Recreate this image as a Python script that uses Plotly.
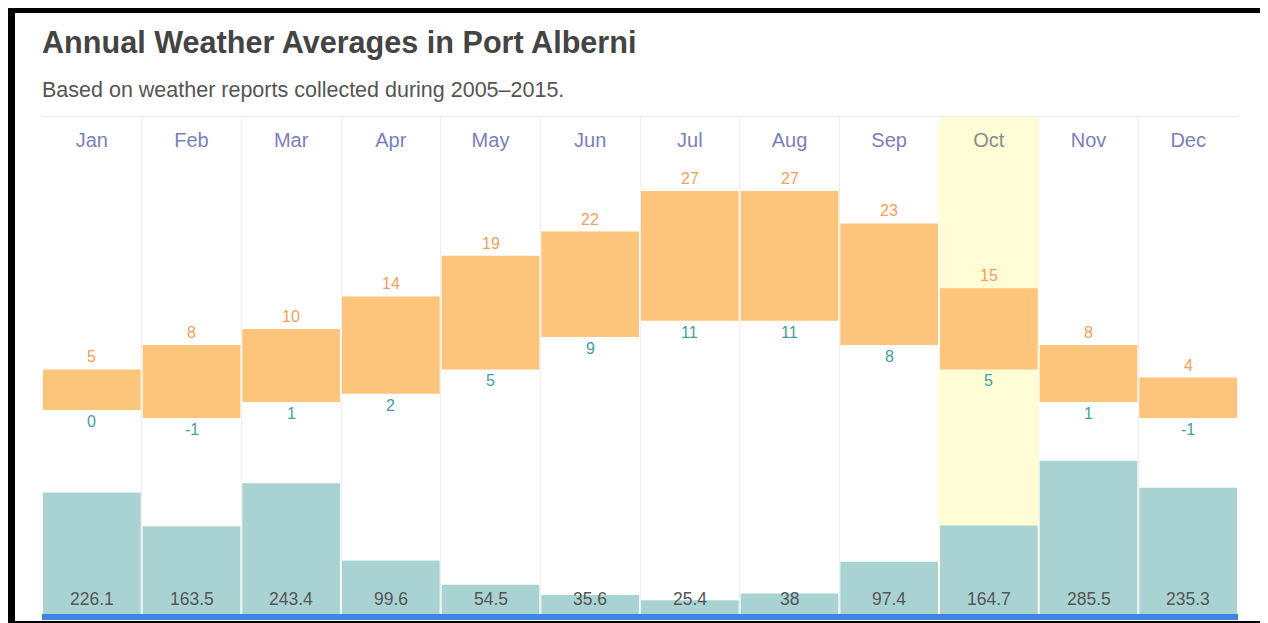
import plotly.graph_objects as go

months = ["Jan", "Feb", "Mar", "Apr", "May", "Jun", "Jul", "Aug", "Sep", "Oct", "Nov", "Dec"]
high_temp = [5, 8, 10, 14, 19, 22, 27, 27, 23, 15, 8, 4]
low_temp = [0, -1, 1, 2, 5, 9, 11, 11, 8, 5, 1, -1]
precipitation = [226.1, 163.5, 243.4, 99.6, 54.5, 35.6, 25.4, 38, 97.4, 164.7, 285.5, 235.3]
highlight_month = "Oct"

title_text = "Annual Weather Averages in Port Alberni"
subtitle_text = "Based on weather reports collected during 2005\u20132015."

FONT = "Liberation Sans, Arial, Helvetica, sans-serif"
ORANGE = "#fdc47b"
TEAL = "#a9d3d3"
HIGHLIGHT = "#fffdd6"

fig = go.Figure()

# highlight column (base axis, drawn underneath)
fig.add_trace(go.Bar(
    x=[highlight_month], y=[1], width=1, marker=dict(color=HIGHLIGHT, line=dict(width=0)),
    yaxis="y", hoverinfo="skip", showlegend=False,
))

# temperature range bars
fig.add_trace(go.Bar(
    x=months, y=[h - l for h, l in zip(high_temp, low_temp)], base=low_temp,
    marker=dict(color=ORANGE, line=dict(width=0)), yaxis="y2", showlegend=False,
    name="Temperature",
))

# precipitation bars
fig.add_trace(go.Bar(
    x=months, y=precipitation, marker=dict(color=TEAL, line=dict(width=0)),
    yaxis="y3", showlegend=False, name="Precipitation",
))

annotations = []
for m, h, l, p in zip(months, high_temp, low_temp, precipitation):
    annotations.append(dict(x=m, y=h, xref="x", yref="y2", text=str(h), showarrow=False,
                            yanchor="bottom", yshift=2,
                            font=dict(family=FONT, size=16, color="#f2a05a")))
    annotations.append(dict(x=m, y=l, xref="x", yref="y2", text=str(l), showarrow=False,
                            yanchor="top", yshift=-1,
                            font=dict(family=FONT, size=16, color="#449e9e")))
    annotations.append(dict(x=m, y=0, xref="x", yref="y3", text=f"{p:g}", showarrow=False,
                            yanchor="bottom", yshift=3,
                            font=dict(family=FONT, size=17.5, color="#555555")))

annotations.append(dict(x=0, y=1.1499, xref="paper", yref="paper", text="<b>" + title_text + "</b>",
                        showarrow=False, xanchor="left", yanchor="middle", xshift=-2,
                        font=dict(family=FONT, size=30.6, color="#444444")))
annotations.append(dict(x=0, y=1.0543, xref="paper", yref="paper", text=subtitle_text,
                        showarrow=False, xanchor="left", yanchor="middle", xshift=-2,
                        font=dict(family=FONT, size=21.5, color="#555555")))

tick_text = [f'<span style="color:#8a8a8a">{m}</span>' if m == highlight_month else m for m in months]

shapes = [
    # blue strip under the plot
    dict(type="rect", xref="paper", yref="paper", x0=0, x1=1, y0=-6 / 497, y1=0,
         fillcolor="#3f84de", line=dict(width=0), layer="above"),
    # black frame around the screenshot
    dict(type="rect", xref="paper", yref="paper", x0=-0.02592, x1=1.02258, y0=-0.02213, y1=1.2173,
         fillcolor="rgba(0,0,0,0)", line=dict(color="black", width=8), layer="above"),
]

fig.update_layout(
    width=1260, height=615,
    margin=dict(l=34, r=30, t=109, b=9),
    paper_bgcolor="white", plot_bgcolor="white",
    barmode="overlay", bargap=0.02,
    font=dict(family=FONT),
    xaxis=dict(type="category", categoryorder="array", categoryarray=months,
               range=[-0.5, 11.5], side="top", tickson="boundaries",
               tickmode="array", tickvals=months, ticktext=tick_text,
               ticks="", ticklabelposition="inside", ticklabelstandoff=17,
               tickfont=dict(family=FONT, size=20, color="#7c80b8"),
               showgrid=True, gridcolor="#efefef", gridwidth=1,
               showline=True, linecolor="#efefef", linewidth=1, mirror=True,
               zeroline=False, fixedrange=True),
    yaxis=dict(range=[0, 1], visible=False, showgrid=False, zeroline=False),
    yaxis2=dict(range=[-25.15, 36.12], overlaying="y", visible=False, showgrid=False, zeroline=False),
    yaxis3=dict(range=[0, 925.5], overlaying="y", visible=False, showgrid=False, zeroline=False),
    annotations=annotations,
    shapes=shapes,
)

fig.write_html("out.html")
